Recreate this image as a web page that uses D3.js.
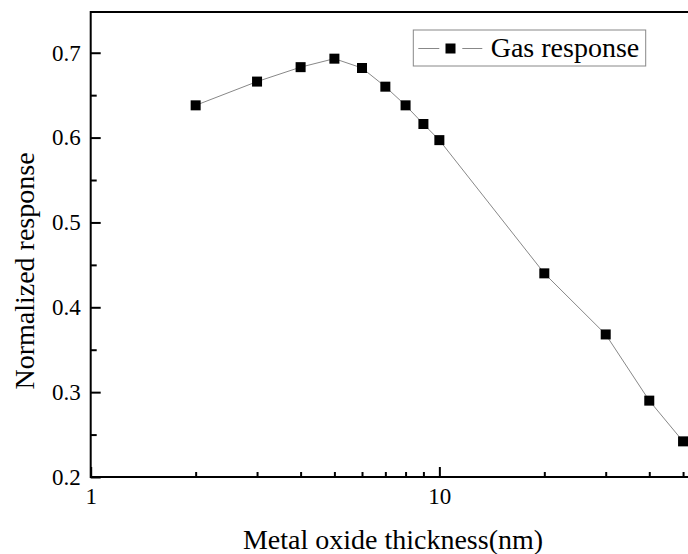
<!DOCTYPE html>
<head>
  <meta charset="utf-8">
  <script src="https://d3js.org/d3.v7.min.js"></script>
  <style>
    body { margin:0; background:#fff; }
    svg { display:block; }
    text { font-family: "Liberation Serif", "Times New Roman", serif; fill:#000; }
  </style>
</head>

<body>
	<script type='text/javascript'>
		// thickness (nm) and normalized gas response
		var thickness = [2, 3, 4, 5, 6, 7, 8, 9, 10, 20, 30, 40, 50];
		var response = [0.638, 0.666, 0.683, 0.693, 0.682, 0.660, 0.638, 0.616, 0.597, 0.440, 0.368, 0.290, 0.242];

		var xMajor = [1, 10];
		var xMinor = [2, 3, 4, 5, 6, 7, 8, 9, 20, 30, 40, 50];
		var yMajor = [0.2, 0.3, 0.4, 0.5, 0.6, 0.7];
		var yMinor = [0.25, 0.35, 0.45, 0.55, 0.65];

		var width = 688, height = 554;
		// plot box (note: "top" is a reserved window property, so use other names)
		var plotL = 90.7, plotR = 689, plotT = 12, plotB = 477;

		var svg = d3.select('body').append('svg')
			.attr('width', width)
			.attr('height', height);

		// SCALES
		var x = d3.scaleLog().domain([1, 52]).range([plotL, plotR]);
		var y = d3.scaleLinear().domain([0.2, 0.748]).range([plotB, plotT]);

		// frame around the plot
		svg.append('rect')
			.attr('x', plotL).attr('y', plotT)
			.attr('width', plotR - plotL).attr('height', plotB - plotT)
			.attr('fill', 'none').attr('stroke', '#000').attr('stroke-width', 2);

		// AXES: ticks point inward, so negative tick size
		svg.append('g')
			.attr('transform', 'translate(0,' + plotB + ')')
			.call(d3.axisBottom(x).tickValues(xMajor).tickSizeInner(-10).tickSizeOuter(0)
				.tickPadding(11).tickFormat(d3.format('d')));
		svg.append('g')
			.attr('transform', 'translate(0,' + plotB + ')')
			.call(d3.axisBottom(x).tickValues(xMinor).tickSizeInner(-5).tickSizeOuter(0).tickFormat(''));

		svg.append('g')
			.attr('transform', 'translate(' + plotL + ',0)')
			.call(d3.axisLeft(y).tickValues(yMajor).tickSizeInner(-10).tickSizeOuter(0)
				.tickPadding(10).tickFormat(d3.format('.1f')));
		svg.append('g')
			.attr('transform', 'translate(' + plotL + ',0)')
			.call(d3.axisLeft(y).tickValues(yMinor).tickSizeInner(-6).tickSizeOuter(0).tickFormat(''));

		svg.selectAll('.domain').remove();
		svg.selectAll('.tick line').attr('stroke', '#000').attr('stroke-width', 2);
		svg.selectAll('.tick text')
			.style('font-family', '"Liberation Serif", "Times New Roman", serif')
			.style('font-size', '23px')
			.attr('fill', '#000');

		// axis titles
		svg.append('text')
			.attr('x', 393).attr('y', 549)
			.attr('text-anchor', 'middle')
			.style('font-size', '28px')
			.text('Metal oxide thickness(nm)');

		svg.append('text')
			.attr('transform', 'translate(34,271) rotate(-90)')
			.attr('text-anchor', 'middle')
			.style('font-size', '28px')
			.text('Normalized response');

		// data line and markers
		var pts = thickness.map((d, i) => [d, response[i]]);
		var line = d3.line().x(d => x(d[0])).y(d => y(d[1]));

		svg.append('path')
			.datum(pts)
			.attr('d', line)
			.attr('fill', 'none')
			.attr('stroke', '#888')
			.attr('stroke-width', 1);

		var ms = 10;
		svg.selectAll('rect.pt')
			.data(pts).enter().append('rect')
			.attr('class', 'pt')
			.attr('x', d => x(d[0]) - ms / 2)
			.attr('y', d => y(d[1]) - ms / 2)
			.attr('width', ms).attr('height', ms)
			.attr('fill', '#000');

		// LEGEND
		var lg = svg.append('g').attr('transform', 'translate(413.3,30)');
		lg.append('rect')
			.attr('width', 232.4).attr('height', 36)
			.attr('fill', '#fff').attr('stroke', '#888').attr('stroke-width', 1);
		lg.append('line').attr('x1', 5).attr('x2', 26).attr('y1', 18.5).attr('y2', 18.5)
			.attr('stroke', '#888');
		lg.append('line').attr('x1', 49).attr('x2', 69).attr('y1', 18.5).attr('y2', 18.5)
			.attr('stroke', '#888');
		lg.append('rect').attr('x', 37.2 - ms / 2).attr('y', 18.5 - ms / 2)
			.attr('width', ms).attr('height', ms).attr('fill', '#000');
		lg.append('text')
			.attr('x', 77.4).attr('y', 27)
			.style('font-size', '28px')
			.text('Gas response');
	</script>
</body>
